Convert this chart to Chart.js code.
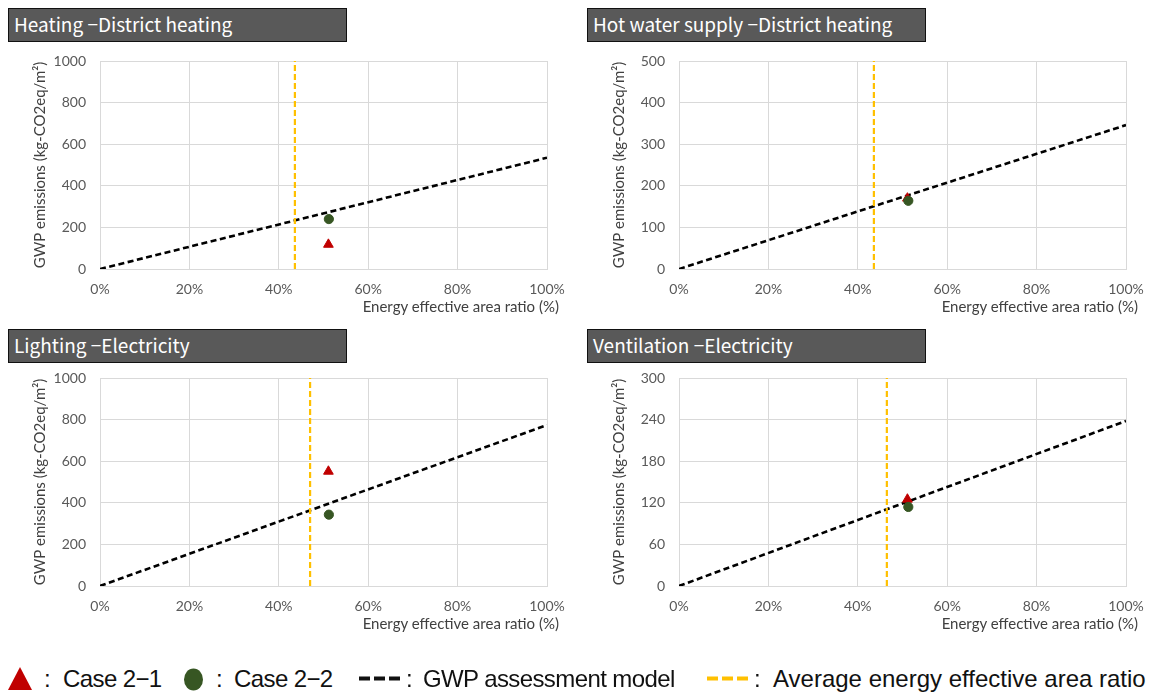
<!DOCTYPE html>
<html>
<head>
<meta charset="utf-8">
<script src="https://cdn.jsdelivr.net/npm/chart.js@4.4.1/dist/chart.umd.min.js"></script>
<style>
  body { margin: 0; background: #fff; width: 1162px; height: 693px; position: relative; overflow: hidden; }
  .panel-title {
    position: absolute; box-sizing: border-box; width: 339px; height: 34px;
    background: #595959; border: 1.5px solid #111; color: #fff;
    font: 19px "Noto Sans CJK KR", sans-serif; line-height: 30px; padding-left: 5px; white-space: pre;
  }
  .chart-box { position: absolute; }
  .x-title {
    position: absolute; font: 15px Lato, sans-serif; color: #404040; white-space: nowrap;
    transform: translate(-100%, -50%);
  }
  .leg { position: absolute; top: 664px; font: 24px "Liberation Sans Narrow", sans-serif; color: #111; line-height: 30px; white-space: nowrap; }
  .leg.tight { letter-spacing: -0.6px; }
  .leg-mark { position: absolute; }
</style>
</head>
<body>
<div id="root"></div>

<svg class="leg-mark" style="left:8px;top:667px" width="24" height="23"><polygon points="12,0 24,23 0,23" fill="#c00000"/></svg>
<span class="leg" style="left:44px">:</span>
<span class="leg tight" style="left:63px">Case 2−1</span>
<svg class="leg-mark" style="left:183px;top:668px" width="21" height="23"><ellipse cx="10.5" cy="11.5" rx="9.5" ry="11" fill="#375623"/></svg>
<span class="leg" style="left:216px">:</span>
<span class="leg tight" style="left:234px">Case 2−2</span>
<svg class="leg-mark" style="left:359px;top:676px" width="42" height="5"><line x1="0" y1="2.5" x2="42" y2="2.5" stroke="#111" stroke-width="4" stroke-dasharray="11 4"/></svg>
<span class="leg" style="left:406px">:</span>
<span class="leg tight" style="left:423px">GWP assessment model</span>
<svg class="leg-mark" style="left:707px;top:676px" width="43" height="5"><line x1="0" y1="2.5" x2="43" y2="2.5" stroke="#ffc000" stroke-width="4" stroke-dasharray="11 4"/></svg>
<span class="leg" style="left:754px">:</span>
<span class="leg" style="left:773px">Average energy effective area ratio</span>

<script>
'use strict';

const panelTitles = [
  'Heating −District heating',
  'Hot water supply −District heating',
  'Lighting −Electricity',
  'Ventilation −Electricity'
];
const yMax = [1000, 500, 1000, 300];
const yStep = [200, 100, 200, 60];
const modelAt100 = [535, 346, 774, 238];
const avgRatio = [43.6, 43.6, 47.0, 46.5];
const case21X = [51.1, 51.1, 51.1, 51.1];
const case21Y = [118, 170, 551, 125];
const case22X = [51.2, 51.3, 51.2, 51.3];
const case22Y = [240, 164, 343, 114];
const xMax = 100;
const xStep = 20;
const yTitle = 'GWP emissions (kg-CO2eq/m²)';
const xTitle = 'Energy effective area ratio (%)';

// layout: chart area corners of each panel
const plotLeft = [100, 679, 100, 679];
const plotTop = [61, 61, 378, 378];
const plotW = 447;
const plotH = 208;
const titleLeft = [8, 587, 8, 587];
const titleTop = [8, 8, 329, 329];

const root = document.getElementById('root');
const tickColor = '#595959';
const gridColor = '#d9d9d9';

function buildPanel(i) {
  const title = document.createElement('div');
  title.className = 'panel-title';
  title.style.left = `${titleLeft[i]}px`;
  title.style.top = `${titleTop[i]}px`;
  title.textContent = panelTitles[i];
  root.appendChild(title);

  const padTop = 11, yW = 100, padRight = 33, xH = 51;
  const box = document.createElement('div');
  box.className = 'chart-box';
  box.style.left = `${plotLeft[i] - yW}px`;
  box.style.top = `${plotTop[i] - padTop}px`;
  const canvas = document.createElement('canvas');
  canvas.width = yW + plotW + padRight;
  canvas.height = padTop + plotH + xH;
  box.appendChild(canvas);
  root.appendChild(box);

  const xt = document.createElement('div');
  xt.className = 'x-title';
  xt.style.left = `${plotLeft[i] + plotW + 12}px`;
  xt.style.top = `${plotTop[i] + plotH + 37}px`;
  xt.textContent = xTitle;
  root.appendChild(xt);

  new Chart(canvas, {
    type: 'scatter',
    data: {
      datasets: [
        { label: 'Case 2-2', data: [{ x: case22X[i], y: case22Y[i] }], pointStyle: 'circle', pointRadius: 4.6,
          backgroundColor: '#375623', borderColor: '#375623', borderWidth: 1 },
        { label: 'Case 2-1', data: [{ x: case21X[i], y: case21Y[i] }], pointStyle: 'triangle', pointRadius: 5.6,
          backgroundColor: '#c00000', borderColor: '#c00000', borderWidth: 1 },
        { label: 'Average energy effective area ratio', data: [{ x: avgRatio[i], y: 0 }, { x: avgRatio[i], y: yMax[i] }],
          showLine: true, pointRadius: 0, borderColor: '#ffc000', borderWidth: 2.2, borderDash: [6, 3] },
        { label: 'GWP assessment model', data: [{ x: 0, y: 0 }, { x: xMax, y: modelAt100[i] }],
          showLine: true, pointRadius: 0, borderColor: '#000', borderWidth: 2.6, borderDash: [6, 3.5] }
      ]
    },
    options: {
      responsive: false,
      devicePixelRatio: 1,
      animation: false,
      layout: { autoPadding: false, padding: { top: padTop, right: padRight, left: 0, bottom: 0 } },
      plugins: { legend: { display: false }, tooltip: { enabled: false } },
      scales: {
        x: {
          type: 'linear', min: 0, max: xMax,
          afterFit: (s) => { s.height = xH; s.paddingLeft = 0; s.paddingRight = 0; },
          grid: { color: gridColor, drawTicks: false },
          border: { color: gridColor },
          ticks: { stepSize: xStep, padding: 12, color: tickColor, font: { family: 'Lato', size: 14 },
            callback: (v) => `${v}%` }
        },
        y: {
          type: 'linear', min: 0, max: yMax[i],
          afterFit: (s) => { s.width = yW; s.paddingTop = 0; s.paddingBottom = 0; },
          grid: { color: gridColor, drawTicks: false },
          border: { color: gridColor },
          ticks: { stepSize: yStep[i], padding: 14, color: tickColor, font: { family: 'Lato', size: 14 },
            callback: (v) => String(v) },
          title: { display: true, text: yTitle, color: '#404040', font: { family: 'Lato', size: 15 },
            padding: { top: 31, bottom: 0 } }
        }
      }
    }
  });
}

panelTitles.forEach((_, i) => buildPanel(i));
</script>
</body>
</html>
